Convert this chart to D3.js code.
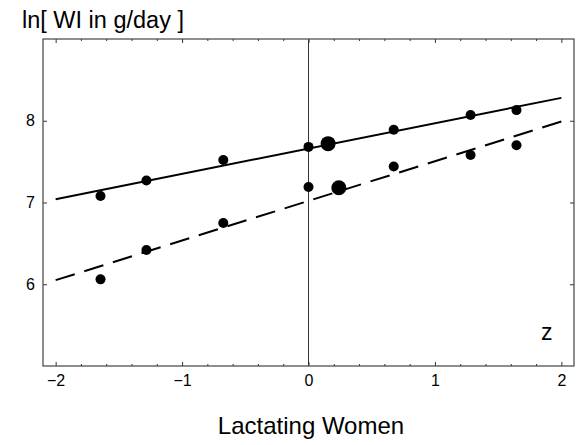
<!DOCTYPE html>
<html>
<head>
<meta charset="utf-8">
<script src="https://cdn.jsdelivr.net/npm/d3@7"></script>
<style>
  body { margin: 0; background: #fff; }
  svg { display: block; }
  text { font-family: "Liberation Sans", Arial, sans-serif; fill: #000; }
</style>
</head>
<body>
<div id="chart"></div>
<script>
// z scores (normal quantiles) of the observed percentiles
var zScores = [-1.645, -1.282, -0.674, 0, 0.674, 1.282, 1.645];
var upperValues = [7.08, 7.27, 7.52, 7.68, 7.89, 8.07, 8.13];
var lowerValues = [6.06, 6.42, 6.75, 7.19, 7.44, 7.58, 7.70];

// the two bigger points (estimated medians)
var bigZ = [0.155, 0.24];
var bigValues = [7.72, 7.18];

// fitted lines, values at z = -2 and z = 2
var lineZ = [-2, 2];
var solidFit = [7.04, 8.28];
var dashedFit = [6.05, 7.99];

var xTicks = [-2, -1, 0, 1, 2];
var xMinorTicks = [-1.8, -1.6, -1.4, -1.2, -0.8, -0.6, -0.4, -0.2,
                   0.2, 0.4, 0.6, 0.8, 1.2, 1.4, 1.6, 1.8];
var yTicks = [6, 7, 8];

var yTitle = "ln[ WI in g/day ]";
var xTitle = "Lactating Women";
var zLabel = "z";

var w = 586, h = 445;
var plotLeft = 43, plotRight = 574, plotTop = 39, plotBottom = 366;

var svg = d3.select("#chart")
            .append("svg")
            .attr("width", w)
            .attr("height", h);

var xScale = d3.scaleLinear()
               .domain([-2.1, 2.1])
               .range([plotLeft, plotRight]);

var yScale = d3.scaleLinear()
               .domain([5, 9])
               .range([plotBottom, plotTop]);

var fmt = function(d) { return d < 0 ? "\u2212" + Math.abs(d) : "" + d; };

// zero line
svg.append("line")
   .attr("x1", xScale(0)).attr("x2", xScale(0))
   .attr("y1", plotTop).attr("y2", plotBottom)
   .attr("stroke", "#333")
   .attr("stroke-width", 1);

// axes, ticks pointing inwards
svg.append("g")
   .attr("class", "labelled")
   .attr("transform", "translate(0," + plotBottom + ")")
   .call(d3.axisBottom(xScale).tickValues(xTicks).tickSize(-4).tickPadding(9).tickFormat(fmt));

svg.append("g")
   .attr("transform", "translate(0," + plotBottom + ")")
   .call(d3.axisBottom(xScale).tickValues(xMinorTicks).tickSize(-2).tickFormat(""));

svg.append("g")
   .attr("transform", "translate(0," + plotTop + ")")
   .call(d3.axisTop(xScale).tickValues(xTicks).tickSize(-4).tickFormat(""));

svg.append("g")
   .attr("transform", "translate(0," + plotTop + ")")
   .call(d3.axisTop(xScale).tickValues(xMinorTicks).tickSize(-2).tickFormat(""));

svg.append("g")
   .attr("class", "labelled")
   .attr("transform", "translate(" + plotLeft + ",0)")
   .call(d3.axisLeft(yScale).tickValues(yTicks).tickSize(-4).tickPadding(8).tickFormat(fmt));

svg.append("g")
   .attr("transform", "translate(" + plotRight + ",0)")
   .call(d3.axisRight(yScale).tickValues(yTicks).tickSize(-4).tickFormat(""));

svg.selectAll(".domain").remove();
svg.selectAll(".tick line").attr("stroke", "#333");
svg.selectAll(".labelled")
   .attr("font-size", 16)
   .attr("font-family", "'Liberation Sans', Arial, sans-serif");
svg.selectAll(".tick text").attr("fill", "#000");

// frame
svg.append("rect")
   .attr("x", plotLeft).attr("y", plotTop)
   .attr("width", plotRight - plotLeft).attr("height", plotBottom - plotTop)
   .attr("fill", "none")
   .attr("stroke", "#444")
   .attr("stroke-width", 1.2);

// fitted lines
var line = d3.line()
             .x(function(d) { return xScale(d[0]); })
             .y(function(d) { return yScale(d[1]); });

svg.append("path")
   .attr("d", line(d3.zip(lineZ, solidFit)))
   .attr("fill", "none")
   .attr("stroke", "#000")
   .attr("stroke-width", 2);

svg.append("path")
   .attr("d", line(d3.zip(lineZ, dashedFit)))
   .attr("fill", "none")
   .attr("stroke", "#000")
   .attr("stroke-width", 2)
   .attr("stroke-dasharray", "20,10");

// points
var points = d3.zip(zScores, upperValues).concat(d3.zip(zScores, lowerValues));

svg.append("g")
   .selectAll("circle")
   .data(points)
   .enter()
   .append("circle")
      .attr("cx", function(d) { return xScale(d[0]); })
      .attr("cy", function(d) { return yScale(d[1]); })
      .attr("r", 5)
      .attr("fill", "#000");

svg.append("g")
   .selectAll("circle")
   .data(d3.zip(bigZ, bigValues))
   .enter()
   .append("circle")
      .attr("cx", function(d) { return xScale(d[0]); })
      .attr("cy", function(d) { return yScale(d[1]); })
      .attr("r", 7.5)
      .attr("fill", "#000");

// labels
svg.append("text")
   .attr("x", 22)
   .attr("y", 28)
   .style("font-size", "23.5px")
   .text(yTitle);

svg.append("text")
   .attr("x", 311)
   .attr("y", 434)
   .attr("text-anchor", "middle")
   .style("font-size", "24px")
   .text(xTitle);

svg.append("text")
   .attr("x", 541)
   .attr("y", 340)
   .style("font-size", "23px")
   .text(zLabel);
</script>
</body>
</html>
